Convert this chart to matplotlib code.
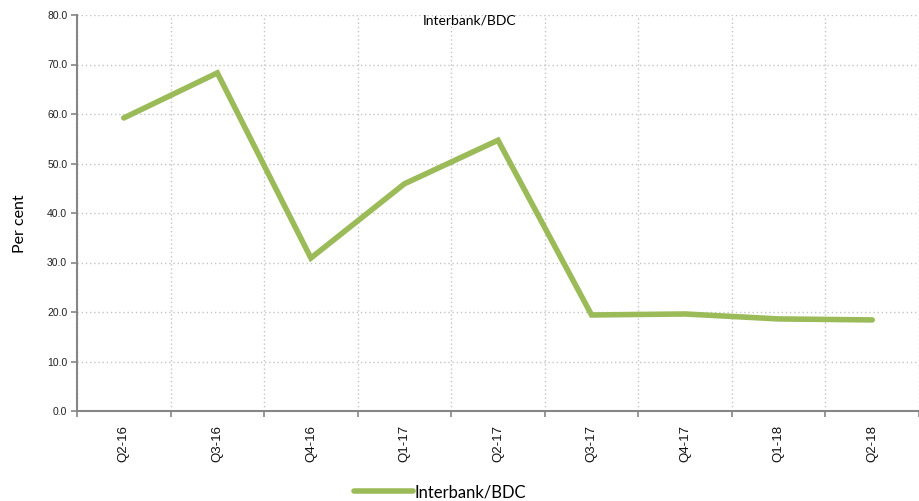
import numpy as np
import matplotlib.pyplot as plt

quarters = ['Q2-16', 'Q3-16', 'Q4-16', 'Q1-17', 'Q2-17', 'Q3-17', 'Q4-17', 'Q1-18', 'Q2-18']
interbank_bdc = [59.2, 68.3, 30.9, 45.9, 54.7, 19.4, 19.6, 18.6, 18.4]

fig = plt.figure(figsize=(9.19, 5.01), dpi=100)
ax = fig.add_axes([77 / 919, 90 / 501, 1 - 77 / 919, 396 / 501])

x = np.arange(len(quarters))
line, = ax.plot(x, interbank_bdc, color='#9BBB59', lw=4, solid_capstyle='round',
                solid_joinstyle='miter', label='Interbank/BDC')

ax.set_xlim(-0.5, len(quarters) - 0.5)
ax.set_ylim(0, 80)
ax.set_yticks(np.arange(0, 81, 10))
ax.set_yticklabels([f'{v:.1f}' for v in np.arange(0, 81, 10)], fontsize=7.5,
                   family='Liberation Sans', color='#222222')

# ticks sit between categories, labels at centres
ax.set_xticks(np.arange(-0.5, len(quarters), 1))
ax.set_xticklabels([])
ax.set_xticks(x, minor=True)
ax.set_xticklabels(quarters, minor=True, rotation=90, fontsize=9.5,
                   family='Liberation Sans', color='#111111')
ax.tick_params(axis='x', which='minor', length=0, pad=10)
ax.tick_params(axis='x', which='major', length=4, width=1.2, color='#868686')
ax.tick_params(axis='y', length=4, width=1.2, color='#868686', pad=3)

ax.grid(True, which='major', color='#c4c4c4', linestyle=(0, (1, 2)), linewidth=1)
ax.set_axisbelow(True)
for s in ['top', 'right']:
    ax.spines[s].set_visible(False)
for s in ['left', 'bottom']:
    ax.spines[s].set_color('#868686')
    ax.spines[s].set_linewidth(1.5)

ax.set_ylabel('Per cent', fontsize=11.5, family='Lato')
ax.yaxis.set_label_coords(-0.059, 0.472)
ax.text(0.466, 0.985, 'Interbank/BDC', transform=ax.transAxes, ha='center', va='center',
        fontsize=10, family='Lato')

fig.legend(handles=[line], loc='center', bbox_to_anchor=(440 / 919, 1 - 492 / 501),
           frameon=False, prop={'family': 'Lato', 'size': 12}, handlelength=3.5,
           handletextpad=0.1)

fig.savefig('out.png', dpi=100)
